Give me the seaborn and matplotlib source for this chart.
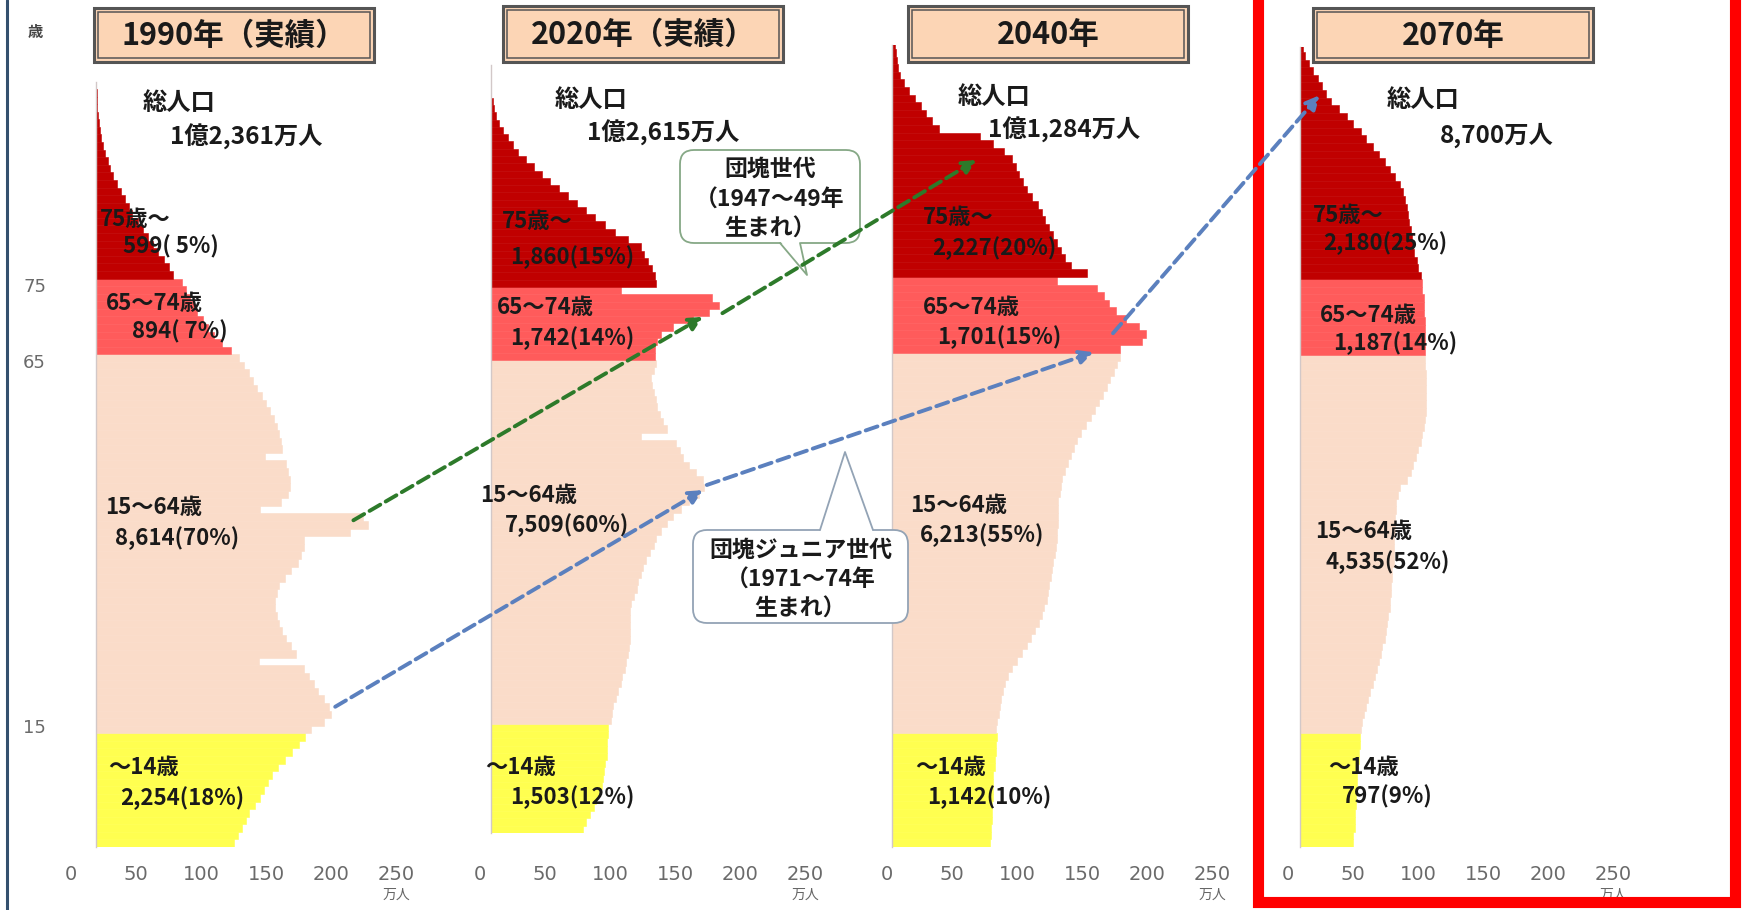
import matplotlib
matplotlib.use("Agg")
import matplotlib.pyplot as plt
import seaborn as sns
import pandas as pd
from matplotlib.patches import Rectangle, FancyBboxPatch, Polygon, ConnectionPatch
from matplotlib.transforms import ScaledTranslation

# ---------------- data (万人, per single year of age) ----------------
pop_1990 = [106, 109, 112, 115, 118, 122, 126, 129, 132, 135, 140, 145, 151, 156, 161,
            165, 175, 181, 179, 175, 171, 168, 164, 160, 125, 154, 150, 146, 143, 141,
            139, 138, 138, 139, 141, 145, 150, 155, 158, 160, 160, 195, 209, 205, 126,
            142, 148, 149, 149, 148, 146, 130, 143, 142, 141, 139, 137, 134, 131, 128,
            124, 121, 118, 114, 110,
            104, 97, 91, 86, 82, 78, 75, 72, 69, 66,
            59, 56, 52, 48, 44, 40, 36, 32, 28, 25, 22, 19, 16, 13, 11, 9, 7, 5, 4, 3,
            2, 1.5, 1, 0.7, 0.5, 0.3]
pop_2020 = [71, 73, 76, 79, 81, 83, 85, 86, 87, 88, 89, 89, 89, 90, 90,
            92, 93, 94, 96, 98, 100, 101, 103, 104, 105, 106, 107, 107, 107, 107,
            107, 108, 110, 112, 113, 115, 117, 119, 122, 125, 127, 131, 135, 140, 146,
            152, 160, 164, 163, 158, 152, 148, 145, 142, 115, 135, 132, 130, 128, 127,
            125, 124, 123, 125, 127,
            126, 126, 128, 131, 140, 155, 168, 175, 170, 100,
            127, 126, 124, 121, 118, 115, 105, 95, 88, 80, 73, 66, 59, 52, 45, 39, 33,
            27, 21, 17, 13, 9, 6, 4, 2.5, 1.5]
pop_2040 = [75, 76, 76, 77, 77, 77, 78, 78, 78, 78, 79, 79, 80, 80, 81,
            80, 81, 82, 83, 84, 85, 87, 89, 92, 96, 100, 104, 107, 110, 113,
            115, 117, 119, 120, 121, 122, 123, 124, 125, 126, 127, 127, 128, 128, 128,
            128, 129, 130, 131, 133, 135, 138, 140, 142, 145, 149, 153, 156, 159, 162,
            165, 168, 171, 173, 175,
            175, 192, 195, 190, 180, 172, 167, 163, 158, 127,
            150, 138, 133, 130, 127, 124, 121, 118, 115, 112, 108, 104, 101, 98, 95,
            92, 86, 78, 68, 36, 31, 26, 22, 18, 13, 9, 6, 4.5, 3.5, 3, 2]
pop_2070 = [41, 41, 42, 42, 42, 43, 43, 43, 44, 44, 44, 45, 45, 46, 46,
            47, 48, 49, 51, 52, 54, 56, 58, 59, 61, 62, 63, 65, 66, 67,
            68, 69, 69, 70, 70, 71, 71, 72, 72, 72, 72, 73, 73, 73, 74,
            74, 75, 77, 82, 85, 87, 89, 91, 93, 94, 95, 96, 97, 97, 97,
            97, 97, 97, 96, 96,
            96, 96, 96, 96, 96, 95, 95, 95, 94, 94,
            93, 91, 90, 88, 87, 86, 85, 84, 83, 82, 81, 79, 77, 73, 69, 65, 61, 56,
            51, 47, 41, 36, 30, 24, 20, 17, 14, 10, 7, 4, 2]

years = ["1990年（実績）", "2020年（実績）", "2040年", "2070年"]
totals = ["1億2,361万人", "1億2,615万人", "1億1,284万人", "8,700万人"]
grp_names = ["75歳〜", "65〜74歳", "15〜64歳", "〜14歳"]
grp_vals = [["599( 5%)", "894( 7%)", "8,614(70%)", "2,254(18%)"],
            ["1,860(15%)", "1,742(14%)", "7,509(60%)", "1,503(12%)"],
            ["2,227(20%)", "1,701(15%)", "6,213(55%)", "1,142(10%)"],
            ["2,180(25%)", "1,187(14%)", "4,535(52%)", "797(9%)"]]
x_ticks = [0, 50, 100, 150, 200, 250]
y_ticks = [73.6, 63.6, 15.4]
y_tick_labels = ["75", "65", "15"]

palette = {"〜14歳": "#ffff50", "15〜64歳": "#fadcc9", "65〜74歳": "#ff5b5b", "75歳〜": "#c00000"}


def group_of(a):
    if a < 15:
        return "〜14歳"
    if a < 65:
        return "15〜64歳"
    if a < 75:
        return "65〜74歳"
    return "75歳〜"


sns.set_style("white")
plt.rcParams["font.family"] = ["Noto Sans CJK JP", "DejaVu Sans"]

W, H = 1744, 910
fig = plt.figure(figsize=(W / 100, H / 100), dpi=100)
PX = 1.30      # pixels per 万人
XMAX = 260

layout = [  # bar-left px, bottom px, px per age, top age, tick label shift px
    dict(left=96, bottom=847, ppa=7.58, top=100.4, shift=25),
    dict(left=491, bottom=833, ppa=7.28, top=105.0, shift=11),
    dict(left=892, bottom=847, ppa=7.60, top=105.0, shift=5),
    dict(left=1300, bottom=847, ppa=7.57, top=105.2, shift=12),
]
pops = [pop_1990, pop_2020, pop_2040, pop_2070]

axes = []
for i, (lay, pop) in enumerate(zip(layout, pops)):
    h_px = (lay["top"] + 0.5) * lay["ppa"]
    ax = fig.add_axes([lay["left"] / W, (H - lay["bottom"]) / H, XMAX * PX / W, h_px / H])
    ages = list(range(len(pop)))
    df = pd.DataFrame({"age": ages, "pop": pop, "group": [group_of(a) for a in ages]})
    sns.barplot(data=df, x="pop", y="age", hue="group", orient="h", native_scale=True,
                dodge=False, width=1.0, palette=palette, saturation=1, errorbar=None,
                legend=False, linewidth=0, ax=ax)
    for p in ax.patches:
        p.set_edgecolor(p.get_facecolor())
        p.set_linewidth(0.4)
    ax.set_xlim(0, XMAX)
    ax.set_ylim(-0.5, lay["top"])
    ax.set_xlabel("")
    ax.set_ylabel("")
    ax.patch.set_alpha(0)
    for s in ["top", "right", "bottom"]:
        ax.spines[s].set_visible(False)
    ax.spines["left"].set_color("#d2c8c8")
    ax.spines["left"].set_linewidth(1.0)
    ax.set_xticks(x_ticks)
    ax.set_xticklabels([str(v) for v in x_ticks])
    pad_pt = (865 - lay["bottom"]) * 0.72
    ax.tick_params(axis="x", length=0, pad=pad_pt, labelsize=14, labelcolor="#6a6a6a")
    if i == 0:
        ax.set_yticks(y_ticks)
        ax.set_yticklabels(y_tick_labels)
        ax.tick_params(axis="y", length=0, pad=36, labelsize=13, labelcolor="#6a6a6a")
    else:
        ax.set_yticks([])
    for lab in ax.get_xticklabels() + ax.get_yticklabels():
        lab.set_fontfamily("DejaVu Sans")
    for lab in ax.get_xticklabels():
        lab.set_transform(lab.get_transform() + ScaledTranslation(-lay["shift"] / 100, 0, fig.dpi_scale_trans))
    axes.append(ax)

# ---------------- overlay in pixel coordinates ----------------
ov = fig.add_axes([0, 0, 1, 1], zorder=5)
ov.set_xlim(0, W)
ov.set_ylim(H, 0)
ov.axis("off")
ov.patch.set_alpha(0)

TXT = dict(fontweight="bold", color="#1a1a1a")

# title boxes
boxes = [(94, 8, 374, 62), (503, 6, 783, 62), (908, 6, 1188, 62), (1313, 8, 1593, 62)]
for (x0, y0, x1, y1), t in zip(boxes, years):
    ov.add_patch(Rectangle((x0, y0), x1 - x0, y1 - y0, fc="#fcd5b5", ec="#555555", lw=2.2))
    ov.add_patch(Rectangle((x0 + 4, y0 + 4), x1 - x0 - 8, y1 - y0 - 8, fc="none", ec="#555555", lw=1.1))
    ov.text((x0 + x1) / 2, (y0 + y1) / 2 + 1, t, ha="center", va="center",
            fontsize=22, fontweight="bold", color="#1a1a1a")

# total population labels
tot_pos = [((143, 103), (170, 137)), ((555, 100), (587, 133)),
           ((958, 97), (988, 130)), ((1387, 100), (1440, 135))]
for (p1, p2), t in zip(tot_pos, totals):
    ov.text(p1[0], p1[1], "総人口", ha="left", va="center", fontsize=17.5, **TXT)
    ov.text(p2[0], p2[1], t, ha="left", va="center", fontsize=17.5, **TXT)

# age-group labels (name, value) per panel
grp_pos = [
    [((100, 220), (123, 247)), ((106, 303), (132, 332)), ((105, 508), (115, 538)), ((108, 768), (120, 798))],
    [((502, 222), (510, 257)), ((497, 308), (510, 338)), ((480, 495), (505, 525)), ((485, 768), (510, 797))],
    [((923, 218), (932, 248)), ((923, 308), (937, 337)), ((910, 505), (920, 535)), ((915, 768), (927, 797))],
    [((1313, 215), (1323, 243)), ((1320, 315), (1333, 343)), ((1315, 532), (1325, 562)), ((1328, 768), (1342, 797))],
]
for pi in range(4):
    for gi in range(4):
        (a, b) = grp_pos[pi][gi]
        ov.text(a[0], a[1], grp_names[gi], ha="left", va="center", fontsize=16, **TXT)
        ov.text(b[0], b[1], grp_vals[pi][gi], ha="left", va="center", fontsize=16, **TXT)

# unit labels
for lay in layout:
    ov.text(lay["left"] + 250 * PX - lay["shift"], 895, "万人", ha="center", va="center",
            fontsize=10, color="#666666")
ov.text(35, 32, "歳", ha="center", va="center", fontsize=11, color="#444444", fontweight="bold")


# callouts
def callout(x0, y0, x1, y1, base, tip, ec, lines, ys):
    ov.add_patch(FancyBboxPatch((x0, y0), x1 - x0, y1 - y0,
                                boxstyle="round,pad=0,rounding_size=14",
                                fc="white", ec=ec, lw=1.3, zorder=6))
    by = base[2]
    d = 2 if tip[1] > by else -2
    ov.add_patch(Polygon([(base[0], by - d), (tip[0], tip[1]), (base[1], by - d)],
                         closed=True, fc="white", ec="none", zorder=7))
    ov.plot([base[0], tip[0], base[1]], [by, tip[1], by], color=ec, lw=1.3, zorder=8)
    for t, y in zip(lines, ys):
        ov.text((x0 + x1) / 2, y, t, ha="center", va="center", fontsize=16.5, zorder=9, **TXT)


callout(680, 150, 860, 243, (780, 800, 243), (807, 275), "#86a886",
        ["団塊世代", "（1947〜49年", "生まれ）"], [169, 200, 229])
callout(693, 530, 908, 623, (820, 873, 530), (845, 452), "#93a3b5",
        ["団塊ジュニア世代", "（1971〜74年", "生まれ）"], [550, 580, 609])

# cohort arrows (anchored in each panel's data coordinates)
green = "#2d7a2a"
blue = "#5b80be"
arrows = [
    (0, (198, 42.6), 1, (163, 70.4), green),
    (1, (178, 70.9), 2, (65, 89.9), green),
    (0, (184, 18.0), 1, (163, 46.6), blue),
    (1, (166, 47.3), 2, (155, 64.6), blue),
    (2, (170, 67.1), 3, (15, 98.8), blue),
]
for ia, pa, ib, pb, col in arrows:
    con = ConnectionPatch(xyA=pa, coordsA="data", axesA=axes[ia],
                          xyB=pb, coordsB="data", axesB=axes[ib],
                          arrowstyle="-|>", mutation_scale=20, color=col,
                          lw=2.8, linestyle=(0, (3.2, 1.6)), zorder=20)
    fig.add_artist(con)

# red highlight frame and left border
ov.add_patch(Rectangle((1257.5, -20), 1735 - 1257.5, 902 + 20, fc="none", ec="#ff0000",
                       lw=8, zorder=12))
ov.plot([6.5, 6.5], [0, H], color="#34506e", lw=2.2, zorder=12)

fig.savefig("out.png", dpi=100)
